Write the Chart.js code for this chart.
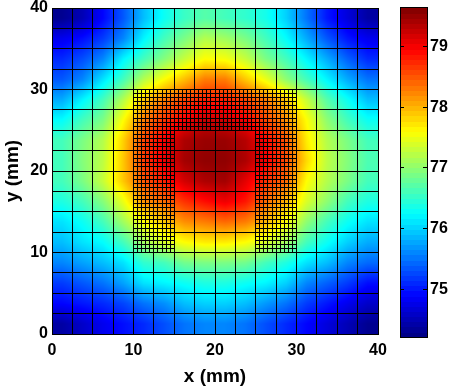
<!DOCTYPE html>
<html><head><meta charset="utf-8">
<script src="https://cdn.jsdelivr.net/npm/chart.js@4.4.1/dist/chart.umd.min.js"></script>
<style>html,body{margin:0;padding:0;background:#fff;}#wrap{width:452px;height:388px;}</style>
</head><body><div id="wrap"><canvas id="c" width="452" height="388"></canvas></div>
<script>
const xTicks = [0, 10, 20, 30, 40];
const yTicks = [0, 10, 20, 30, 40];
const cbTicks = [75, 76, 77, 78, 79];
const cellX = [1.25, 3.75, 6.25, 8.75, 11.25, 13.75, 16.25, 18.75, 21.25, 23.75, 26.25, 28.75, 31.25, 33.75, 36.25, 38.75];
const cellY = [38.75, 36.25, 33.75, 31.25, 28.75, 26.25, 23.75, 21.25, 18.75, 16.25, 13.75, 11.25, 8.75, 6.25, 3.75, 1.25];
// temperature at cell centres, rows from top (y=38.75) to bottom (y=1.25)
const temperature = [
 [74.3, 74.5, 74.9, 75.35, 75.9, 76.3, 76.55, 76.7, 76.6, 76.5, 76.35, 76.0, 75.5, 75.0, 74.7, 74.4],
 [74.8, 74.95, 75.2, 75.6, 76.2, 76.6, 76.9, 77.2, 77.1, 76.9, 76.6, 76.25, 75.8, 75.35, 75.0, 74.8],
 [75.1, 75.3, 75.6, 76.2, 76.6, 76.95, 77.3, 77.6, 77.55, 77.3, 76.9, 76.6, 76.2, 75.8, 75.4, 75.1],
 [75.35, 75.6, 76.1, 76.6, 77.2, 77.6, 77.95, 78.3, 78.3, 77.9, 77.5, 77.0, 76.6, 76.2, 75.8, 75.5],
 [75.8, 76.2, 76.6, 77.2, 77.9, 78.3, 78.6, 78.8, 78.8, 78.6, 78.3, 77.9, 77.3, 76.7, 76.3, 75.9],
 [76.25, 76.6, 76.9, 77.6, 78.3, 78.7, 79.0, 79.25, 79.2, 79.0, 78.6, 78.2, 77.6, 77.0, 76.6, 76.3],
 [76.6, 76.9, 77.2, 77.85, 78.6, 79.0, 79.4, 79.5, 79.5, 79.35, 78.95, 78.5, 77.7, 77.2, 76.9, 76.6],
 [76.6, 76.95, 77.25, 77.9, 78.65, 79.05, 79.45, 79.55, 79.55, 79.4, 79.0, 78.55, 77.8, 77.25, 76.95, 76.65],
 [76.6, 76.9, 77.3, 77.9, 78.5, 78.8, 79.2, 79.4, 79.45, 79.1, 78.7, 78.4, 77.6, 77.2, 76.9, 76.6],
 [76.4, 76.6, 76.95, 77.5, 78.2, 78.4, 78.7, 78.9, 79.05, 78.85, 78.4, 78.0, 77.4, 77.0, 76.6, 76.4],
 [76.1, 76.3, 76.6, 77.1, 77.6, 77.9, 78.2, 78.3, 78.4, 78.3, 78.0, 77.6, 77.0, 76.6, 76.3, 76.1],
 [75.9, 76.1, 76.25, 76.6, 77.1, 77.4, 77.6, 77.7, 77.7, 77.6, 77.4, 77.1, 76.6, 76.3, 76.0, 75.8],
 [75.6, 75.75, 75.9, 76.1, 76.5, 76.6, 76.85, 76.9, 76.9, 76.85, 76.6, 76.4, 76.1, 75.9, 75.6, 75.45],
 [75.2, 75.35, 75.5, 75.75, 76.1, 76.2, 76.3, 76.4, 76.4, 76.3, 76.2, 76.0, 75.6, 75.4, 75.2, 74.95],
 [74.9, 75.0, 75.1, 75.25, 75.5, 75.65, 75.9, 76.0, 76.0, 75.9, 75.7, 75.5, 75.2, 75.0, 74.8, 74.6],
 [74.4, 74.6, 74.8, 74.95, 75.1, 75.3, 75.5, 75.6, 75.6, 75.5, 75.3, 75.1, 74.9, 74.7, 74.5, 74.3]
];
const tempMin = 74.21, tempMax = 79.64;
const coarseLines = [0, 2.5, 5, 7.5, 10, 12.5, 15, 17.5, 20, 22.5, 25, 27.5, 30, 32.5, 35, 37.5, 40];
const fineLines = [10, 10.5, 11, 11.5, 12, 12.5, 13, 13.5, 14, 14.5, 15, 15.5, 16, 16.5, 17, 17.5, 18, 18.5, 19, 19.5, 20,
                   20.5, 21, 21.5, 22, 22.5, 23, 23.5, 24, 24.5, 25, 25.5, 26, 26.5, 27, 27.5, 28, 28.5, 29, 29.5, 30];
const fineOuter = [10, 30];
const fineHoleX = [15, 25];
const fineHoleY = [10, 25];

function jet(t) {
  t = Math.max(0, Math.min(1, t));
  const c = v => Math.max(0, Math.min(1, v));
  return [c(1.5 - Math.abs(4 * t - 3)) * 255, c(1.5 - Math.abs(4 * t - 2)) * 255, c(1.5 - Math.abs(4 * t - 1)) * 255];
}
function sample(x, y) {
  const dx = cellX[1] - cellX[0];
  const dy = cellY[0] - cellY[1];
  let u = (x - cellX[0]) / dx, v = (cellY[0] - y) / dy;
  const n = cellX.length - 1, m = cellY.length - 1;
  u = Math.max(0, Math.min(n, u)); v = Math.max(0, Math.min(m, v));
  const i = Math.min(n - 1, Math.floor(u)), j = Math.min(m - 1, Math.floor(v));
  const fu = u - i, fv = v - j;
  const a = temperature[j][i], b = temperature[j][i + 1], c = temperature[j + 1][i], d = temperature[j + 1][i + 1];
  return (a * (1 - fu) + b * fu) * (1 - fv) + (c * (1 - fu) + d * fu) * fv;
}

const FONT = '"Liberation Sans", Arial, sans-serif';
const heat = {
  id: 'heat',
  beforeDatasetsDraw(chart) {
    const {ctx, chartArea: a, scales: {x: xs, y: ys}} = chart;
    const L = Math.round(a.left), T = Math.round(a.top), W = Math.round(a.right) - L, H = Math.round(a.bottom) - T;
    const img = ctx.createImageData(W, H);
    for (let py = 0; py < H; py++) {
      const yv = ys.getValueForPixel(T + py + 0.5);
      for (let px = 0; px < W; px++) {
        const xv = xs.getValueForPixel(L + px + 0.5);
        const col = jet((sample(xv, yv) - tempMin) / (tempMax - tempMin));
        const k = (py * W + px) * 4;
        img.data[k] = col[0]; img.data[k + 1] = col[1]; img.data[k + 2] = col[2]; img.data[k + 3] = 255;
      }
    }
    ctx.putImageData(img, L, T);
  },
  afterDatasetsDraw(chart) {
    const {ctx, chartArea: a, scales: {x: xs, y: ys, cb}} = chart;
    const X = v => Math.floor(xs.getPixelForValue(v)) + 0.5;
    const Y = v => Math.floor(ys.getPixelForValue(v)) + 0.5;
    ctx.save();
    ctx.strokeStyle = '#000';
    ctx.lineWidth = 1;
    ctx.beginPath();
    coarseLines.forEach(v => {
      ctx.moveTo(X(v), Y(0)); ctx.lineTo(X(v), Y(40));
      ctx.moveTo(X(0), Y(v)); ctx.lineTo(X(40), Y(v));
    });
    fineLines.forEach(v => {
      if (v <= fineHoleX[0] || v >= fineHoleX[1]) { ctx.moveTo(X(v), Y(fineOuter[0])); ctx.lineTo(X(v), Y(fineOuter[1])); }
      else { ctx.moveTo(X(v), Y(fineHoleY[1])); ctx.lineTo(X(v), Y(fineOuter[1])); }
      if (v >= fineHoleY[1]) { ctx.moveTo(X(fineOuter[0]), Y(v)); ctx.lineTo(X(fineOuter[1]), Y(v)); }
      else {
        ctx.moveTo(X(fineOuter[0]), Y(v)); ctx.lineTo(X(fineHoleX[0]), Y(v));
        ctx.moveTo(X(fineHoleX[1]), Y(v)); ctx.lineTo(X(fineOuter[1]), Y(v));
      }
    });
    ctx.stroke();
    // frame
    ctx.strokeRect(X(0), Y(40), X(40) - X(0), Y(0) - Y(40));
    // colorbar
    const cx0 = Math.round(cb.left) + 22, cx1 = cx0 + 28;
    const steps = 64;
    for (let s = 0; s < steps; s++) {
      const v0 = tempMin + (tempMax - tempMin) * s / steps;
      const v1 = tempMin + (tempMax - tempMin) * (s + 1) / steps;
      const c = jet((s + 0.5) / steps);
      ctx.fillStyle = `rgb(${c[0] | 0},${c[1] | 0},${c[2] | 0})`;
      const p0 = cb.getPixelForValue(v0), p1 = cb.getPixelForValue(v1);
      ctx.fillRect(cx0, Math.floor(p1), cx1 - cx0, Math.ceil(p0) - Math.floor(p1));
    }
    const cTop = Math.floor(cb.getPixelForValue(tempMax)) + 0.5, cBot = Math.floor(cb.getPixelForValue(tempMin)) + 0.5;
    ctx.strokeRect(cx0 + 0.5, cTop, cx1 - cx0 - 1, cBot - cTop);
    ctx.beginPath();
    cb.ticks.forEach(t => {
      const p = Math.floor(cb.getPixelForValue(t.value)) + 0.5;
      ctx.moveTo(cx1 - 5, p); ctx.lineTo(cx1, p);
      ctx.moveTo(cx0, p); ctx.lineTo(cx0 + 4, p);
    });
    ctx.stroke();
    ctx.restore();
  }
};

const tickFont = {family: FONT, size: 16, weight: 'bold'};
const titleFont = {family: FONT, size: 19, weight: 'bold'};
const noPad = s => { s.paddingLeft = 0; s.paddingRight = 0; s.paddingTop = 0; s.paddingBottom = 0; };
const setTicks = arr => s => { s.ticks = arr.map(v => ({value: v})); };

new Chart(document.getElementById('c'), {
  type: 'scatter',
  data: {datasets: [{data: [], pointRadius: 0}]},
  options: {
    responsive: false, animation: false, devicePixelRatio: 1,
    layout: {padding: {top: 8, left: 0, right: 0, bottom: 0}},
    plugins: {legend: {display: false}, tooltip: {enabled: false}},
    scales: {
      x: {type: 'linear', position: 'bottom', min: 0, max: 40,
        grid: {display: false, drawTicks: false}, border: {display: false},
        ticks: {font: tickFont, color: '#000', padding: 7, maxRotation: 0},
        afterBuildTicks: setTicks(xTicks),
        afterFit: s => { s.height = 54; noPad(s); },
        title: {display: true, text: 'x (mm)', font: titleFont, color: '#000', padding: {top: 0, bottom: 0}}},
      y: {type: 'linear', position: 'left', min: 0, max: 40,
        grid: {display: false, drawTicks: false}, border: {display: false},
        ticks: {font: tickFont, color: '#000', padding: 4},
        afterBuildTicks: setTicks(yTicks),
        afterFit: s => { s.width = 52; noPad(s); },
        title: {display: true, text: 'y (mm)', font: titleFont, color: '#000', padding: {top: 1, bottom: 0}}},
      cb: {type: 'linear', axis: 'y', position: 'right', min: 74.263, max: 79.638,
        grid: {display: false, drawTicks: false}, border: {display: false},
        ticks: {font: tickFont, color: '#000', padding: 52},
        afterBuildTicks: setTicks(cbTicks),
        afterFit: s => { s.width = 74; noPad(s); }}
    }
  },
  plugins: [heat]
});
</script></body></html>
